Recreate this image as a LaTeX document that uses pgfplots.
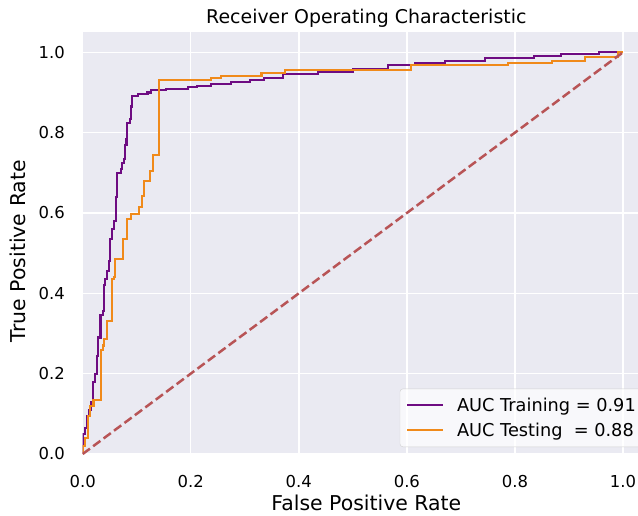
\documentclass[border=0pt]{standalone}
\usepackage{pgfplots}
\pgfplotsset{compat=1.18}
\usepackage{fontspec}
\setmainfont{DejaVu Sans}

\definecolor{bgcol}{HTML}{EAEAF2}
\definecolor{trainc}{HTML}{6E0C82}
\definecolor{testc}{HTML}{F08A1A}
\definecolor{diagc}{HTML}{B85456}

\begin{document}
\begin{tikzpicture}
\begin{axis}[
  name=ax,
  scale only axis,
  width=567.3bp, height=421.8bp,
  xmin=0, xmax=1.05, ymin=0, ymax=1.05,
  xtick={0,0.2,0.4,0.6,0.8,1.0},
  ytick={0,0.2,0.4,0.6,0.8,1.0},
  /pgf/number format/assume math mode=true,
  /pgf/number format/fixed,
  /pgf/number format/fixed zerofill,
  /pgf/number format/precision=1,
  tick label style={font=\fontsize{16.5}{20}\selectfont},
  yticklabel style={anchor=east, inner sep=0pt, xshift=-17.7bp},
  xticklabel style={anchor=north, inner sep=0pt, yshift=-21bp},
  major tick length=0pt,
  axis line style={draw=none},
  axis background/.style={fill=bgcol},
  grid=major,
  major grid style={white, line width=1.4bp},
  every axis title shift=0pt,
  title={Receiver Operating Characteristic},
  title style={font=\fontsize{19}{23}\selectfont, at={(axis description cs:0.5,1.0213)}, anchor=base},
  xlabel={False Positive Rate},
  ylabel={True Positive Rate},
  label style={font=\fontsize{20.5}{24}\selectfont},
  xlabel style={at={(axis description cs:0.5,-0.1328)}, anchor=base},
  ylabel style={at={(axis description cs:-0.1017,0.481)}, anchor=base},
  legend style={at={(axis description cs:1,0)}, anchor=south east, xshift=-8bp, yshift=7bp,
    draw=black!18, fill=white, fill opacity=0.7, text opacity=1, rounded corners=3bp,
    font=\fontsize{17.8}{21}\selectfont, inner xsep=6bp, inner ysep=9bp,
    row sep=10bp, column sep=13bp, nodes={inner sep=0pt}, cells={anchor=west}},
  legend image code/.code={\draw[#1] (0bp,0bp) -- (36bp,0bp);},
]
\addplot[trainc, line width=2.1bp] coordinates {
(0,0)(0,0.05)(0.004,0.05)(0.004,0.065)(0.008,0.065)(0.008,0.095)(0.012,0.095)(0.012,0.11)
(0.016,0.11)(0.016,0.13)(0.019,0.13)(0.019,0.18)(0.023,0.18)(0.023,0.2)(0.026,0.2)(0.026,0.245)
(0.028,0.245)(0.028,0.29)(0.033,0.29)(0.033,0.345)(0.037,0.345)(0.037,0.355)(0.039,0.355)(0.039,0.42)
(0.042,0.42)(0.042,0.435)(0.045,0.435)(0.045,0.455)(0.048,0.455)(0.048,0.48)(0.05,0.48)(0.05,0.535)
(0.054,0.535)(0.054,0.56)(0.058,0.56)(0.058,0.58)(0.061,0.58)(0.061,0.64)(0.064,0.64)(0.064,0.70)
(0.071,0.70)(0.071,0.71)(0.073,0.71)(0.073,0.725)(0.076,0.725)(0.076,0.735)(0.079,0.735)(0.079,0.77)
(0.081,0.77)(0.081,0.785)(0.082,0.785)(0.082,0.825)(0.087,0.825)(0.087,0.835)(0.089,0.835)(0.089,0.865)
(0.091,0.865)(0.091,0.892)(0.102,0.892)(0.102,0.897)(0.12,0.897)(0.12,0.90)(0.127,0.90)(0.127,0.905)
(0.155,0.905)(0.155,0.909)(0.195,0.909)(0.195,0.913)(0.212,0.913)(0.212,0.917)(0.238,0.917)(0.238,0.921)
(0.275,0.921)(0.275,0.926)(0.31,0.926)(0.31,0.93)(0.335,0.93)(0.335,0.937)(0.37,0.937)(0.37,0.946)
(0.435,0.946)(0.435,0.952)(0.50,0.952)(0.50,0.959)(0.565,0.959)(0.565,0.968)(0.615,0.968)(0.615,0.972)
(0.67,0.972)(0.67,0.978)(0.745,0.978)(0.745,0.985)(0.835,0.985)(0.835,0.99)(0.885,0.99)(0.885,0.996)
(0.955,0.996)(0.955,1.0)(1,1)
};
\addlegendentry{AUC Training = 0.91}
\addplot[testc, line width=2.1bp] coordinates {
(0,0)(0,0.02)(0.005,0.02)(0.005,0.04)(0.009,0.04)(0.009,0.095)(0.014,0.095)(0.014,0.12)
(0.02,0.12)(0.02,0.135)(0.034,0.135)(0.034,0.26)(0.037,0.26)(0.037,0.27)(0.04,0.27)(0.04,0.286)
(0.045,0.286)(0.045,0.33)(0.054,0.33)(0.054,0.435)(0.058,0.435)(0.058,0.44)(0.06,0.44)(0.06,0.485)
(0.075,0.485)(0.075,0.535)(0.082,0.535)(0.082,0.585)(0.089,0.585)(0.089,0.598)(0.104,0.598)(0.104,0.615)
(0.109,0.615)(0.109,0.643)(0.113,0.643)(0.113,0.68)(0.124,0.68)(0.124,0.705)(0.13,0.705)(0.13,0.745)
(0.142,0.745)(0.142,0.93)(0.238,0.93)(0.238,0.936)(0.256,0.936)(0.256,0.942)(0.331,0.942)(0.331,0.948)
(0.374,0.948)(0.374,0.957)(0.607,0.957)(0.607,0.968)(0.788,0.968)(0.788,0.974)(0.868,0.974)(0.868,0.979)
(0.93,0.979)(0.93,0.988)(0.99,0.988)(0.99,1.0)(1,1)
};
\addlegendentry{AUC Testing\ \ = 0.88}
\addplot[diagc, line width=2.5bp, dash pattern=on 9bp off 4bp, forget plot] coordinates {(0,0)(1,1)};
\end{axis}
\pgfresetboundingbox
\useasboundingbox ([xshift=-82.7bp,yshift=-62bp]ax.south west) rectangle ([xshift=555.3bp,yshift=454bp]ax.south west);
\end{tikzpicture}
\end{document}
